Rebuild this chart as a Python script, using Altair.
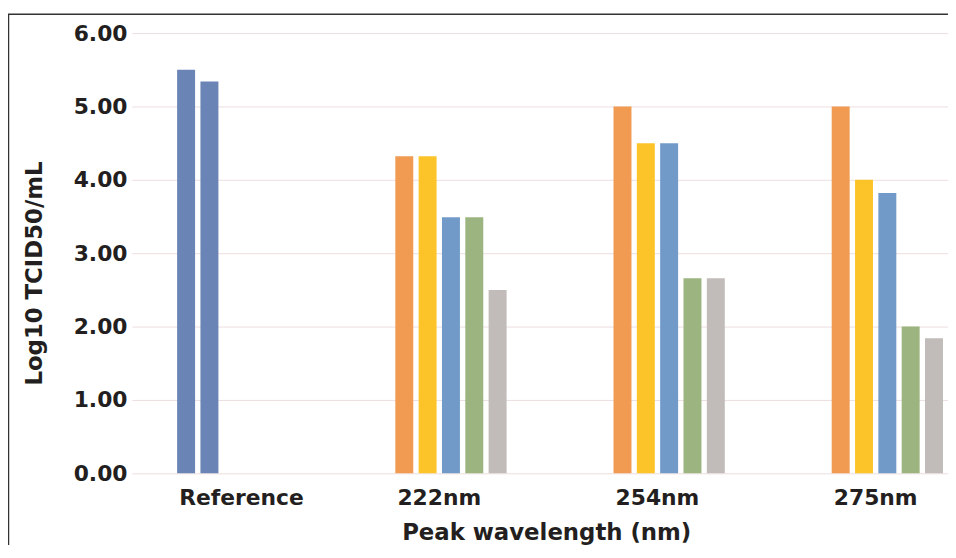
import altair as alt
import pandas as pd

# ---- data ----
groups = ["Reference", "222nm", "254nm", "275nm"]
slots = ["1", "2", "3", "4", "5"]
series = ["Reference", "Series 1", "Series 2", "Series 3", "Series 4", "Series 5"]
colors = ["#6b84b6", "#f09a52", "#fdc42a", "#719ac8", "#9cb47f", "#c1bbb9"]

reference_vals = [5.50, 5.34]
nm222_vals = [4.32, 4.32, 3.49, 3.49, 2.50]
nm254_vals = [5.00, 4.50, 4.50, 2.66, 2.66]
nm275_vals = [5.00, 4.00, 3.82, 2.00, 1.84]
y_ticks = [0, 1, 2, 3, 4, 5, 6]

rows = []
for i, v in enumerate(reference_vals):
    rows.append({"group": "Reference", "slot": slots[i], "series": "Reference", "value": v})
for g, vals in [("222nm", nm222_vals), ("254nm", nm254_vals), ("275nm", nm275_vals)]:
    for i, v in enumerate(vals):
        rows.append({"group": g, "slot": slots[i], "series": series[i + 1], "value": v})
df = pd.DataFrame(rows)

FONT = "DejaVu Sans"
TXT = "#231f20"

bars = alt.Chart(df).mark_bar().encode(
    x=alt.X(
        "group:N",
        sort=groups,
        scale=alt.Scale(domain=groups, paddingInner=0.49, paddingOuter=0.115, align=0.9),
        axis=alt.Axis(
            title="Peak wavelength (nm)",
            labelAngle=0,
            labelAlign="left",
            labelOffset=-54,
            labelBaseline="alphabetic",
            labelPadding=31,
            ticks=False,
            tickSize=0,
            domain=False,
            grid=False,
            labelFont=FONT,
            labelFontSize=22,
            labelFontWeight="bold",
            labelColor=TXT,
            titleFont=FONT,
            titleFontSize=23,
            titleFontWeight="bold",
            titleColor=TXT,
            titleX=272,
            titleY=67,
            titleAnchor="start",
            titleAlign="left",
            titleBaseline="alphabetic",
        ),
    ),
    xOffset=alt.XOffset("slot:N", scale=alt.Scale(domain=slots, paddingInner=0.23, paddingOuter=0)),
    y=alt.Y(
        "value:Q",
        scale=alt.Scale(domain=[0, 6], nice=False),
        axis=alt.Axis(
            title="Log10 TCID50/mL",
            values=y_ticks,
            format=".2f",
            ticks=False,
            tickSize=0,
            domain=False,
            grid=True,
            gridColor="#ecdede",
            gridWidth=1,
            labelPadding=5,
            labelFont=FONT,
            labelFontSize=22,
            labelFontWeight="bold",
            labelColor=TXT,
            titleFont=FONT,
            titleFontSize=23,
            titleFontWeight="bold",
            titleColor=TXT,
            titleAngle=270,
            titleX=-91,
            titleY=242,
            titleAlign="center",
            titleBaseline="alphabetic",
        ),
    ),
    color=alt.Color("series:N", scale=alt.Scale(domain=series, range=colors), legend=None),
)

frame_df = pd.DataFrame({"k": [0]})
left_border = alt.Chart(frame_df).mark_rule(color="#333333", strokeWidth=1.5).encode(
    x=alt.value(-124.5), y=alt.value(-19), y2=alt.value(600)
)
top_border = alt.Chart(frame_df).mark_rule(color="#333333", strokeWidth=1.5).encode(
    x=alt.value(-125), x2=alt.value(850), y=alt.value(-19)
)

chart = alt.layer(bars, left_border, top_border).properties(
    width=823,
    height=444,
    autosize=alt.AutoSizeParams(type="none"),
    padding={"left": 125, "top": 23, "right": 0, "bottom": 70},
    background="white",
).configure_view(stroke=None)

chart.save("out.html", embed_options={"renderer": "svg", "actions": False})
